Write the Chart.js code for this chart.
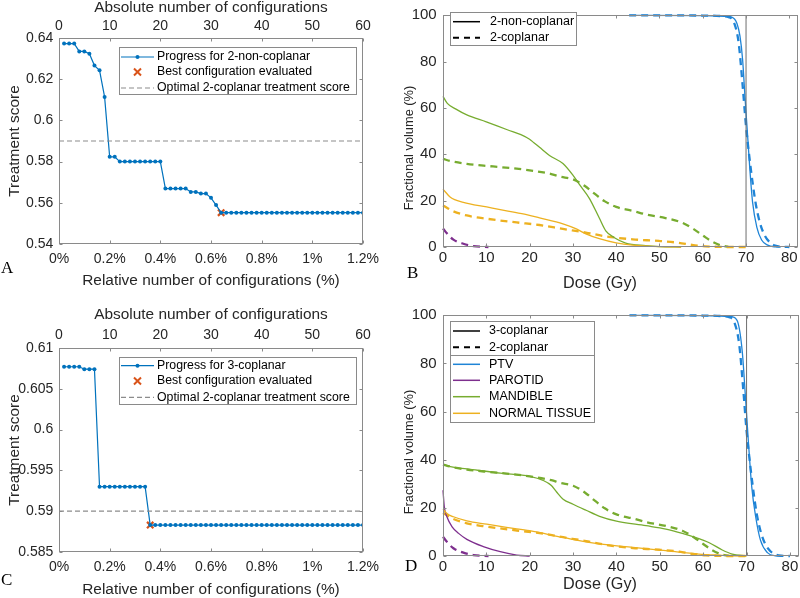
<!DOCTYPE html>
<html><head><meta charset="utf-8">
<script src="https://cdn.jsdelivr.net/npm/chart.js@4/dist/chart.umd.min.js"></script>
<style>
html,body{margin:0;padding:0;background:#fff;}
#wrap{position:relative;width:800px;height:598px;overflow:hidden;background:#fff;}
canvas{position:absolute;}
</style></head><body>
<div id="wrap">
<canvas id="cA" width="400" height="300" style="left:0;top:0;width:400px;height:300px"></canvas>
<canvas id="cB" width="400" height="300" style="left:400px;top:0;width:400px;height:300px"></canvas>
<canvas id="cC" width="400" height="298" style="left:0;top:300px;width:400px;height:298px"></canvas>
<canvas id="cD" width="400" height="298" style="left:400px;top:300px;width:400px;height:298px"></canvas>
</div>
<script>
// ---------------- DATA ----------------
const configIndex = [1,2,3,4,5,6,7,8,9,10,11,12,13,14,15,16,17,18,19,20,21,22,23,24,25,26,27,28,29,30,31,32,33,34,35,36,37,38,39,40,41,42,43,44,45,46,47,48,49,50,51,52,53,54,55,56,57,58,59,60];
const scoreNonCoplanar2 = [0.6373,0.6373,0.6373,0.6335,0.6335,0.6324,0.6266,0.6243,0.6114,0.5823,0.5823,0.5800,0.5800,0.5800,0.5800,0.5800,0.5800,0.5800,0.5800,0.5800,0.5669,0.5669,0.5669,0.5669,0.5669,0.5653,0.5653,0.5645,0.5645,0.5624,0.5589,0.5552,0.5552,0.5552,0.5552,0.5552,0.5552,0.5552,0.5552,0.5552,0.5552,0.5552,0.5552,0.5552,0.5552,0.5552,0.5552,0.5552,0.5552,0.5552,0.5552,0.5552,0.5552,0.5552,0.5552,0.5552,0.5552,0.5552,0.5552,0.5552];
const scoreCoplanar3 = [0.6077,0.6077,0.6077,0.6077,0.6074,0.6074,0.6074,0.5930,0.5930,0.5930,0.5930,0.5930,0.5930,0.5930,0.5930,0.5930,0.5930,0.5883,0.5883,0.5883,0.5883,0.5883,0.5883,0.5883,0.5883,0.5883,0.5883,0.5883,0.5883,0.5883,0.5883,0.5883,0.5883,0.5883,0.5883,0.5883,0.5883,0.5883,0.5883,0.5883,0.5883,0.5883,0.5883,0.5883,0.5883,0.5883,0.5883,0.5883,0.5883,0.5883,0.5883,0.5883,0.5883,0.5883,0.5883,0.5883,0.5883,0.5883,0.5883,0.5883];
const bestIndexA = 32;
const bestIndexC = 18;
const optimalCoplanar2Score = 0.59;

const absTicks = [0,10,20,30,40,50,60];
const relTicks = [0,0.2,0.4,0.6,0.8,1,1.2];
const scoreTicksA = [0.54,0.56,0.58,0.6,0.62,0.64];
const scoreTicksC = [0.585,0.59,0.595,0.6,0.605,0.61];
const doseTicks = [0,10,20,30,40,50,60,70,80];
const volTicks = [0,20,40,60,80,100];
const prescriptionDose = 70;

// 2-coplanar (dashed, panels B and D)
const ptvCop2Dose = [43,60,64,66,67.2,68.3,69.2,70,70.7,71.5,72.3,73.2,74.3,75.5,76.7,78,80];
const ptvCop2Vol  = [100,99.9,99.7,99.2,97,88,70,52,40,28,18,10.5,5,2,0.6,0.1,0];
const parCop2Dose = [0,0.9,2.4,4.7,7,10.5];
const parCop2Vol  = [8,5.9,3.2,1.4,0.4,0];
const manCop2Dose = [0,2,5.5,10,13.2,20,25,27,30,32.7,35,37.3,40,44,47,51.4,55.2,58,60,62,64,66];
const manCop2Vol  = [38,37,35.9,35,34.5,33.1,31.5,30.4,29.2,26.4,23,19.8,17.3,15.5,14,12.5,10.5,7.6,5,2.5,0.8,0];
const ntCop2Dose  = [0,2.4,5.5,10.1,17,22.3,27.7,33,37.6,43.8,49.9,54.5,57.5,60.6,66,70];
const ntCop2Vol   = [17.9,15.4,13.6,12.2,10.6,9.5,7.8,6.2,4.6,3.3,2.6,1.8,0.9,0.3,0,0];

// 2-non-coplanar (solid, panel B)
const ptvNc2Dose = [43,60,65,66.7,67.9,68.6,69.2,69.8,70.4,70.9,71.5,72.5,73.6,75,76.5,78];
const ptvNc2Vol  = [100,99.9,99.6,99.2,96.5,91,81,63.5,47,33,19.5,8.5,3,0.8,0.1,0];
const manNc2Dose = [0,1,3,5.5,10,15,18,20,21,22.3,24.6,27.7,30,31.5,33.8,36.1,37.6,39.6,42.2,46.8,50,55];
const manNc2Vol  = [65,62,59.5,57,54,50.5,48.5,46.5,45,43,39.5,36,31,27,21,12.5,7,4,1.7,0.6,0.2,0];
const ntNc2Dose  = [0,1.7,4.7,10.1,15,19.3,22.3,27.7,30.8,33,36.1,40,43.8,48.4,52,55];
const ntNc2Vol   = [25,21.5,19.3,17.3,15.5,14,12.6,10,7.8,5.7,3.6,1.8,0.8,0.3,0.05,0];

// 3-coplanar (solid, panel D)
const ptvCop3Dose = [43,60,65,66.7,67.9,69,69.8,70.4,71.2,72.1,73.2,74.8,76.7,78];
const ptvCop3Vol  = [100,99.9,99.6,99.4,97.5,85,64.5,48,28.6,16.3,6.6,1.4,0.1,0];
const parCop3Dose = [0,0.3,0.9,2.1,3.6,5.5,9.3,13.2,17,20];
const parCop3Vol  = [27.3,20.4,16.3,12.1,9.4,6.9,3.9,1.8,0.4,0];
const manCop3Dose = [0,2,5.5,13.2,20,23.1,25,26.2,27.7,30,33,36.1,40,46.8,51.4,55.2,59,61.4,64.4,66.7,69.8];
const manCop3Vol  = [38,37,36.2,34.4,33.1,31.4,29.3,26.6,23.6,21.5,19,16.5,14.5,12.6,11.2,9.4,7.2,5.5,2.5,0.8,0];
const ntCop3Dose  = [0,1,2.4,5.5,10.1,15,20,27.7,36.1,43.8,51.4,59,64,67,70];
const ntCop3Vol   = [19.5,17.5,16.3,14.6,13.2,11.8,10.5,7.7,5.0,3.6,2.2,0.8,0.3,0.05,0];

// ---------------- STYLE ----------------
const FONT = "'Liberation Sans', Arial, Helvetica, sans-serif";
const SERIF = "'Liberation Serif', 'Times New Roman', serif";
const TXT = '#262626';
const BOX = '#8a8a8a';
const C_BLUE = '#0072BD', C_ORANGE = '#D95319', C_YELLOW = '#EDB120', C_PURPLE = '#7E2F8E', C_GREEN = '#77AC30';
const C_PTV = '#1f84d6';
const GRAY_DASH = '#8c8c8c';

function xy(xs, ys){ return xs.map((x,i)=>({x:x, y:ys[i]})); }
function fixedTicks(arr){ return function(s){ s.ticks = arr.map(v=>({value:v})); }; }

const framePlugin = {
  id: 'frame',
  afterDraw(chart){
    const o = chart.options.plugins.frame;
    const ctx = chart.ctx, a = chart.chartArea;
    ctx.save();
    const L = Math.round(a.left)+0.5, R = Math.round(a.right)-0.5, T = Math.round(a.top)+0.5, B = Math.round(a.bottom)-0.5;
    ctx.strokeStyle = BOX; ctx.lineWidth = 1; ctx.setLineDash([]);
    const tl = o.tickLen || 4;
    (o.marks||[]).forEach(m=>{
      const sc = chart.scales[m.scale];
      sc.ticks.forEach(t=>{
        const p = Math.round(sc.getPixelForValue(t.value))+0.5;
        m.sides.forEach(side=>{
          ctx.beginPath();
          if (side==='left'){ ctx.moveTo(L,p); ctx.lineTo(L+tl,p); }
          if (side==='right'){ ctx.moveTo(R,p); ctx.lineTo(R-tl,p); }
          if (side==='bottom'){ ctx.moveTo(p,B); ctx.lineTo(p,B-tl); }
          if (side==='top'){ ctx.moveTo(p,T); ctx.lineTo(p,T+tl); }
          ctx.stroke();
        });
      });
    });
    ctx.strokeRect(L, T, R-L, B-T);
    const lg = o.legend;
    if (lg){
      ctx.fillStyle = '#fff';
      ctx.fillRect(lg.box[0], lg.box[1], lg.box[2]-lg.box[0], lg.box[3]-lg.box[1]);
      ctx.strokeStyle = '#8a8a8a'; ctx.lineWidth = 1;
      ctx.strokeRect(lg.box[0]+0.5, lg.box[1]+0.5, lg.box[2]-lg.box[0], lg.box[3]-lg.box[1]);
      if (lg.sep){ ctx.beginPath(); ctx.moveTo(lg.box[0], lg.sep+0.5); ctx.lineTo(lg.box[2], lg.sep+0.5); ctx.stroke(); }
      ctx.font = lg.fontSize + 'px ' + FONT;
      ctx.textBaseline = 'middle'; ctx.textAlign = 'left';
      lg.items.forEach(it=>{
        const y = it.y;
        ctx.save();
        if (it.type==='line' || it.type==='lineDot'){
          ctx.strokeStyle = it.color; ctx.lineWidth = it.width||1.2; ctx.setLineDash(it.dash||[]);
          ctx.beginPath(); ctx.moveTo(lg.x0, y); ctx.lineTo(lg.x1, y); ctx.stroke();
          if (it.type==='lineDot'){ ctx.fillStyle = it.color; ctx.beginPath(); ctx.arc((lg.x0+lg.x1)/2, y, 2, 0, Math.PI*2); ctx.fill(); }
        } else if (it.type==='cross'){
          const cx=(lg.x0+lg.x1)/2, r=3.5;
          ctx.strokeStyle = it.color; ctx.lineWidth = 2;
          ctx.beginPath(); ctx.moveTo(cx-r,y-r); ctx.lineTo(cx+r,y+r); ctx.moveTo(cx-r,y+r); ctx.lineTo(cx+r,y-r); ctx.stroke();
        }
        ctx.restore();
        ctx.fillStyle = '#000';
        ctx.fillText(it.label, lg.tx, y);
      });
    }
    // axis titles placed where the reference has them
    (o.titles||[]).forEach(t=>{
      ctx.save();
      ctx.fillStyle = TXT; ctx.font = t.size + 'px ' + FONT; ctx.textAlign='center'; ctx.textBaseline='middle';
      ctx.translate(t.x, t.y); if (t.rot) ctx.rotate(t.rot);
      ctx.fillText(t.text, 0, 0);
      ctx.restore();
    });
    if (o.letter){
      ctx.fillStyle = '#000'; ctx.font = '17px ' + SERIF; ctx.textAlign='left'; ctx.textBaseline='alphabetic';
      ctx.fillText(o.letter.text, o.letter.x, o.letter.y);
    }
    ctx.restore();
  }
};

function tickFont(size){ return {family: FONT, size: size, lineHeight: 1.2}; }
function titleFont(size){ return {family: FONT, size: size, lineHeight: 1}; }

function scoreChart(id, scores, bestIdx, yMin, yMax, yTicks, seriesLabel, geo){
  const bestPoint = [{x: bestIdx, y: scores[bestIdx-1]}];
  return new Chart(document.getElementById(id), {
    type: 'scatter',
    data: { datasets: [
      { label: 'Optimal 2-coplanar treatment score', xAxisID:'xTop', yAxisID:'y',
        data: [{x:0,y:optimalCoplanar2Score},{x:60,y:optimalCoplanar2Score}],
        showLine:true, borderColor:GRAY_DASH, borderWidth:1.2, borderDash:[5,3], pointRadius:0 },
      { label: seriesLabel, xAxisID:'xTop', yAxisID:'y', data: xy(configIndex, scores),
        showLine:true, borderColor:C_BLUE, backgroundColor:C_BLUE, borderWidth:1.2, pointRadius:2, pointBorderWidth:0, pointBackgroundColor:C_BLUE },
      { label: 'Best configuration evaluated', xAxisID:'xTop', yAxisID:'y', data: bestPoint,
        showLine:false, pointStyle:'crossRot', pointRadius:4.5, pointBorderWidth:2.2, pointBorderColor:C_ORANGE, borderColor:C_ORANGE }
    ]},
    options: {
      responsive:false, animation:false, events:[],
      layout:{padding:{left:0,right:37,top:0,bottom:0}},
      plugins:{ legend:{display:false}, tooltip:{enabled:false},
        frame:{ tickLen:3,
          marks:[{scale:'y',sides:['left','right']},{scale:'x',sides:['bottom']},{scale:'xTop',sides:['top']}],
          legend:{ box:geo.legendBox, x0:121, x1:154, tx:157, fontSize:12.3, items:[
            {type:'lineDot', color:C_BLUE, label:seriesLabel, y:geo.rows[0], width:1.2},
            {type:'cross', color:C_ORANGE, label:'Best configuration evaluated', y:geo.rows[1]},
            {type:'line', color:GRAY_DASH, dash:[5,3], label:'Optimal 2-coplanar treatment score', y:geo.rows[2], width:1.2}
          ]},
          letter: geo.letter }
      },
      scales:{
        x:{ type:'linear', position:'bottom', min:0, max:1.2, afterBuildTicks: fixedTicks(relTicks),
          ticks:{ callback:v=>(Math.round(v*10)/10)+'%', font:tickFont(14), color:TXT, padding:geo.botPad, maxRotation:0, autoSkip:false },
          grid:{display:false, drawTicks:false}, border:{display:false},
          title:{display:true, text:'Relative number of configurations (%)', font:titleFont(15.4), color:TXT, padding:{top:0,bottom:geo.botTitlePad}},
          afterFit:s=>{ s.height = geo.botH; } },
        xTop:{ type:'linear', position:'top', min:0, max:60, afterBuildTicks: fixedTicks(absTicks),
          ticks:{ font:tickFont(14), color:TXT, padding:geo.topPad, maxRotation:0, autoSkip:false },
          grid:{display:false, drawTicks:false}, border:{display:false},
          title:{display:true, text:'Absolute number of configurations', font:titleFont(15.4), color:TXT, padding:{top:geo.topTitlePad,bottom:0}},
          afterFit:s=>{ s.height = geo.topH; } },
        y:{ type:'linear', position:'left', min:yMin, max:yMax, afterBuildTicks: fixedTicks(yTicks),
          ticks:{ callback:v=>String(+v.toFixed(3)), font:tickFont(14), color:TXT, padding:5.7 },
          grid:{display:false, drawTicks:false}, border:{display:false},
          title:{display:true, text:'Treatment score', font:titleFont(15.4), color:TXT, padding:{top:7.3,bottom:0}},
          afterFit:s=>{ s.width = 59; } }
      }
    },
    plugins:[framePlugin]
  });
}

scoreChart('cA', scoreNonCoplanar2, bestIndexA, 0.54, 0.64, scoreTicksA, 'Progress for 2-non-coplanar', {
  botH:56, topH:38, botPad:6.6, topPad:3.9, botTitlePad:11.3, topTitlePad:0,
  legendBox:[119,47,356,94], rows:[57,72,88],
  letter:{text:'A', x:1, y:273}
});
scoreChart('cC', scoreCoplanar3, bestIndexC, 0.585, 0.61, scoreTicksC, 'Progress for 3-coplanar', {
  botH:46, topH:48, botPad:7, topPad:4.6, botTitlePad:0.3, topTitlePad:7.3,
  legendBox:[119,57,356,104], rows:[65.7,81,97.3],
  letter:{text:'C', x:1, y:285}
});

function solid(color, xs, ys, label){ return {label:label, data:xy(xs,ys), showLine:true, borderColor:color, borderWidth:1.3, pointRadius:0, cubicInterpolationMode:'monotone', clip:4}; }
function dashed(color, xs, ys, label){ return {label:label, data:xy(xs,ys), showLine:true, borderColor:color, borderWidth:2.3, borderDash:[7,5], pointRadius:0, cubicInterpolationMode:'monotone', clip:4}; }

function dvhChart(id, datasets, geo, legend){
  datasets.unshift({label:'Prescription', data:[{x:prescriptionDose,y:0},{x:prescriptionDose,y:100}], showLine:true, borderColor:'#6e6e6e', borderWidth:1, pointRadius:0});
  return new Chart(document.getElementById(id), {
    type:'scatter',
    data:{datasets:datasets},
    options:{
      responsive:false, animation:false, events:[],
      layout:{padding:{left:0,right:1,top:geo.top,bottom:0}},
      plugins:{ legend:{display:false}, tooltip:{enabled:false},
        frame:{ tickLen:3,
          marks:[{scale:'y',sides:['left','right']},{scale:'x',sides:['bottom','top']}],
          legend: legend, letter: geo.letter,
          titles:[
            {text:'Dose (Gy)', size:16.2, x:200, y:geo.xTitleY},
            {text:'Fractional volume (%)', size:12.8, x:9, y:geo.yTitleY, rot:-Math.PI/2}
          ] }
      },
      scales:{
        x:{ type:'linear', position:'bottom', min:0, max:82, afterBuildTicks: fixedTicks(doseTicks),
          ticks:{ font:tickFont(15), color:TXT, padding:geo.botPad, maxRotation:0, autoSkip:false },
          grid:{display:false, drawTicks:false}, border:{display:false},
          title:{display:false},
          afterFit:s=>{ s.height = geo.botH; } },
        y:{ type:'linear', position:'left', min:0, max:100, afterBuildTicks: fixedTicks(volTicks),
          ticks:{ font:tickFont(15), color:TXT, padding:6.3 },
          grid:{display:false, drawTicks:false}, border:{display:false},
          title:{display:false},
          afterFit:s=>{ s.width = 43; } }
      }
    },
    plugins:[framePlugin]
  });
}

// solids first, then dashed on top (as in the reference)
dvhChart('cB', [
  solid(C_YELLOW, ntNc2Dose, ntNc2Vol, 'NORMAL TISSUE 2-non-coplanar'),
  solid(C_GREEN, manNc2Dose, manNc2Vol, 'MANDIBLE 2-non-coplanar'),
  solid(C_PTV, ptvNc2Dose, ptvNc2Vol, 'PTV 2-non-coplanar'),
  dashed(C_YELLOW, ntCop2Dose, ntCop2Vol, 'NORMAL TISSUE 2-coplanar'),
  dashed(C_GREEN, manCop2Dose, manCop2Vol, 'MANDIBLE 2-coplanar'),
  dashed(C_PURPLE, parCop2Dose, parCop2Vol, 'PAROTID 2-coplanar'),
  dashed(C_PTV, ptvCop2Dose, ptvCop2Vol, 'PTV 2-coplanar')
], {top:5, botH:53, botPad:2.3, xTitleY:283.3, yTitleY:148, letter:{text:'B', x:7, y:278}},
{ box:[50,12,176,45], x0:53, x1:80, tx:90, fontSize:12.5, items:[
  {type:'line', color:'#000', width:1.5, label:'2-non-coplanar', y:21.7},
  {type:'line', color:'#000', width:2, dash:[6,5], label:'2-coplanar', y:37.7}
]});

dvhChart('cD', [
  solid(C_YELLOW, ntCop3Dose, ntCop3Vol, 'NORMAL TISSUE 3-coplanar'),
  solid(C_GREEN, manCop3Dose, manCop3Vol, 'MANDIBLE 3-coplanar'),
  solid(C_PURPLE, parCop3Dose, parCop3Vol, 'PAROTID 3-coplanar'),
  solid(C_PTV, ptvCop3Dose, ptvCop3Vol, 'PTV 3-coplanar'),
  dashed(C_YELLOW, ntCop2Dose, ntCop2Vol, 'NORMAL TISSUE 2-coplanar'),
  dashed(C_GREEN, manCop2Dose, manCop2Vol, 'MANDIBLE 2-coplanar'),
  dashed(C_PURPLE, parCop2Dose, parCop2Vol, 'PAROTID 2-coplanar'),
  dashed(C_PTV, ptvCop2Dose, ptvCop2Vol, 'PTV 2-coplanar')
], {top:14, botH:42, botPad:1.7, xTitleY:285, yTitleY:152, letter:{text:'D', x:5, y:271}},
{ box:[50,21,194,122], sep:55, x0:53, x1:80, tx:89, fontSize:12.5, items:[
  {type:'line', color:'#000', width:1.5, label:'3-coplanar', y:31},
  {type:'line', color:'#000', width:2, dash:[6,5], label:'2-coplanar', y:47.3},
  {type:'line', color:C_PTV, width:1.5, label:'PTV', y:64.3},
  {type:'line', color:C_PURPLE, width:1.5, label:'PAROTID', y:80.3},
  {type:'line', color:C_GREEN, width:1.5, label:'MANDIBLE', y:96.7},
  {type:'line', color:C_YELLOW, width:1.5, label:'NORMAL TISSUE', y:113.3}
]});
</script>
</body></html>
